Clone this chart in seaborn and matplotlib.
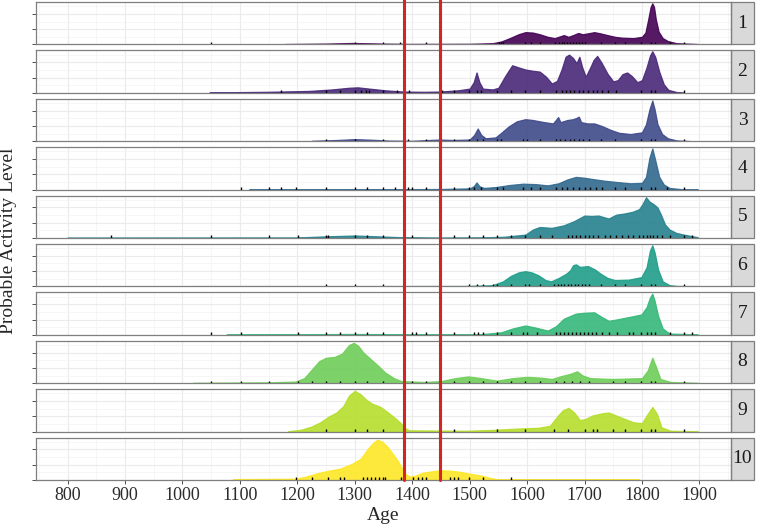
import numpy as np
import pandas as pd
import matplotlib
matplotlib.use("Agg")
import matplotlib.pyplot as plt
from matplotlib.patches import Rectangle
import seaborn as sns

# density profiles (age, relative activity), one pair per panel
age_1 = [1177, 1250, 1296, 1350, 1395, 1500, 1540, 1555, 1570, 1585, 1597, 1610, 1622, 1636, 1648, 1657, 1664, 1672, 1680, 1689, 1697, 1705, 1717, 1728, 1740, 1753, 1765, 1785, 1800, 1806, 1811, 1815, 1818, 1821, 1824, 1829, 1836, 1845, 1860, 1897]
dens_1 = [0.01, 0.02, 0.035, 0.02, 0.012, 0.015, 0.03, 0.07, 0.15, 0.24, 0.29, 0.28, 0.24, 0.18, 0.15, 0.19, 0.22, 0.18, 0.22, 0.27, 0.24, 0.26, 0.29, 0.26, 0.22, 0.18, 0.16, 0.15, 0.18, 0.28, 0.6, 0.88, 0.97, 0.88, 0.6, 0.3, 0.15, 0.08, 0.03, 0.01]

age_2 = [1047, 1150, 1220, 1260, 1290, 1305, 1325, 1353, 1385, 1420, 1448, 1480, 1500, 1507, 1512, 1517, 1523, 1540, 1550, 1562, 1574, 1585, 1597, 1610, 1622, 1633, 1643, 1652, 1660, 1667, 1673, 1680, 1686, 1691, 1696, 1702, 1710, 1716, 1722, 1730, 1740, 1750, 1758, 1766, 1774, 1782, 1792, 1800, 1808, 1814, 1818, 1823, 1830, 1838, 1846, 1860, 1873]
dens_2 = [0.01, 0.025, 0.045, 0.08, 0.12, 0.13, 0.1, 0.06, 0.03, 0.025, 0.03, 0.06, 0.1, 0.25, 0.48, 0.25, 0.1, 0.08, 0.12, 0.4, 0.65, 0.6, 0.55, 0.52, 0.5, 0.38, 0.22, 0.28, 0.55, 0.85, 0.9, 0.82, 0.7, 0.85, 0.6, 0.38, 0.6, 0.78, 0.87, 0.7, 0.45, 0.27, 0.3, 0.44, 0.48, 0.4, 0.25, 0.3, 0.6, 0.88, 0.98, 0.85, 0.5, 0.2, 0.07, 0.02, 0.0]

age_3 = [1225, 1270, 1300, 1330, 1360, 1400, 1430, 1448, 1470, 1500, 1508, 1514, 1520, 1528, 1545, 1555, 1568, 1582, 1597, 1610, 1630, 1645, 1650, 1654, 1658, 1670, 1680, 1686, 1690, 1694, 1705, 1717, 1730, 1745, 1760, 1780, 1800, 1807, 1813, 1818, 1822, 1827, 1835, 1845, 1860, 1883]
dens_3 = [0.01, 0.03, 0.05, 0.035, 0.015, 0.01, 0.03, 0.04, 0.03, 0.04, 0.15, 0.3, 0.15, 0.07, 0.09, 0.2, 0.35, 0.47, 0.52, 0.5, 0.45, 0.42, 0.5, 0.57, 0.45, 0.5, 0.52, 0.55, 0.58, 0.45, 0.42, 0.42, 0.36, 0.27, 0.2, 0.17, 0.21, 0.4, 0.75, 0.96, 0.75, 0.4, 0.17, 0.07, 0.02, 0.005]

age_4 = [1116, 1353, 1450, 1500, 1507, 1512, 1517, 1525, 1545, 1570, 1593, 1615, 1636, 1655, 1670, 1685, 1700, 1714, 1735, 1756, 1780, 1800, 1807, 1813, 1818, 1823, 1830, 1838, 1848, 1870, 1897]
dens_4 = [0.005, 0.01, 0.015, 0.03, 0.08, 0.17, 0.08, 0.04, 0.06, 0.11, 0.14, 0.13, 0.1, 0.15, 0.24, 0.3, 0.28, 0.25, 0.21, 0.18, 0.15, 0.16, 0.3, 0.75, 0.97, 0.7, 0.3, 0.12, 0.04, 0.01, 0.01]

age_5 = [800, 1197, 1250, 1300, 1340, 1381, 1448, 1520, 1560, 1597, 1610, 1622, 1643, 1664, 1682, 1700, 1712, 1724, 1742, 1755, 1770, 1784, 1795, 1801, 1807, 1813, 1820, 1827, 1833, 1840, 1848, 1860, 1873, 1897]
dens_5 = [0.01, 0.012, 0.04, 0.06, 0.04, 0.02, 0.01, 0.015, 0.03, 0.08, 0.2, 0.26, 0.24, 0.3, 0.4, 0.53, 0.52, 0.53, 0.46, 0.55, 0.58, 0.62, 0.68, 0.8, 0.96, 0.86, 0.8, 0.72, 0.55, 0.32, 0.2, 0.12, 0.08, 0.02]

age_6 = [1017, 1353, 1494, 1540, 1558, 1572, 1585, 1597, 1608, 1620, 1632, 1642, 1655, 1668, 1675, 1680, 1685, 1692, 1706, 1718, 1728, 1740, 1753, 1777, 1799, 1808, 1814, 1818, 1822, 1828, 1836, 1848, 1862, 1897]
dens_6 = [0.008, 0.008, 0.01, 0.03, 0.12, 0.25, 0.33, 0.36, 0.33, 0.26, 0.15, 0.12, 0.2, 0.3, 0.38, 0.5, 0.52, 0.46, 0.48, 0.4, 0.3, 0.2, 0.15, 0.16, 0.22, 0.45, 0.85, 0.97, 0.8, 0.4, 0.12, 0.03, 0.01, 0.008]

age_7 = [1077, 1200, 1296, 1381, 1448, 1520, 1555, 1575, 1597, 1615, 1636, 1650, 1664, 1685, 1700, 1717, 1730, 1742, 1755, 1770, 1785, 1799, 1808, 1814, 1818, 1822, 1828, 1836, 1848, 1897]
dens_7 = [0.01, 0.015, 0.02, 0.015, 0.01, 0.015, 0.06, 0.15, 0.22, 0.17, 0.1, 0.2, 0.38, 0.5, 0.52, 0.53, 0.42, 0.33, 0.36, 0.4, 0.44, 0.48, 0.65, 0.88, 0.97, 0.8, 0.45, 0.15, 0.03, 0.01]

age_8 = [1019, 1150, 1197, 1212, 1225, 1238, 1250, 1265, 1278, 1290, 1298, 1306, 1315, 1325, 1340, 1353, 1368, 1381, 1420, 1450, 1475, 1498, 1520, 1547, 1575, 1600, 1625, 1643, 1660, 1675, 1687, 1697, 1710, 1749, 1800, 1810, 1818, 1824, 1832, 1850, 1897]
dens_8 = [0.01, 0.02, 0.04, 0.12, 0.32, 0.52, 0.6, 0.62, 0.7, 0.9, 0.95, 0.88, 0.72, 0.6, 0.42, 0.25, 0.12, 0.05, 0.03, 0.05, 0.12, 0.16, 0.12, 0.06, 0.12, 0.15, 0.13, 0.1, 0.17, 0.22, 0.28, 0.18, 0.12, 0.1, 0.12, 0.3, 0.6, 0.4, 0.1, 0.03, 0.01]

age_9 = [1184, 1205, 1225, 1240, 1254, 1268, 1280, 1290, 1300, 1310, 1320, 1330, 1345, 1358, 1370, 1380, 1388, 1395, 1494, 1540, 1580, 1620, 1640, 1652, 1662, 1672, 1682, 1692, 1702, 1714, 1730, 1742, 1755, 1770, 1785, 1800, 1810, 1818, 1826, 1834, 1850, 1897]
dens_9 = [0.01, 0.04, 0.12, 0.22, 0.35, 0.45, 0.6, 0.85, 0.96, 0.88, 0.75, 0.66, 0.58, 0.45, 0.32, 0.2, 0.08, 0.03, 0.02, 0.04, 0.07, 0.09, 0.14, 0.35, 0.5, 0.56, 0.45, 0.27, 0.3, 0.38, 0.43, 0.45, 0.38, 0.3, 0.22, 0.2, 0.42, 0.58, 0.42, 0.1, 0.02, 0.01]

age_10 = [1088, 1197, 1215, 1235, 1255, 1275, 1295, 1310, 1322, 1330, 1339, 1348, 1357, 1367, 1375, 1382, 1388, 1395, 1405, 1418, 1432, 1448, 1465, 1480, 1500, 1522, 1535, 1548, 1795]
dens_10 = [0.02, 0.03, 0.08, 0.16, 0.22, 0.27, 0.38, 0.5, 0.72, 0.85, 0.95, 0.9, 0.78, 0.6, 0.45, 0.28, 0.15, 0.08, 0.1, 0.17, 0.2, 0.23, 0.22, 0.2, 0.15, 0.1, 0.05, 0.02, 0.02]

# dated events shown as rug marks
rug_1 = [1050, 1300, 1349, 1378, 1424, 1448, 1551, 1555, 1558, 1597, 1607, 1622, 1649, 1655, 1660, 1665, 1670, 1675, 1680, 1685, 1690, 1695, 1700, 1728, 1753, 1770, 1799, 1816, 1823, 1848, 1873]
rug_2 = [1172, 1250, 1275, 1300, 1310, 1320, 1325, 1349, 1374, 1395, 1452, 1473, 1498, 1512, 1519, 1547, 1572, 1597, 1622, 1650, 1660, 1668, 1675, 1682, 1690, 1698, 1706, 1714, 1722, 1730, 1740, 1755, 1799, 1816, 1823, 1873]
rug_3 = [1250, 1300, 1349, 1392, 1424, 1473, 1498, 1512, 1523, 1547, 1554, 1593, 1600, 1622, 1650, 1658, 1666, 1674, 1682, 1690, 1698, 1707, 1728, 1753, 1799, 1816, 1823, 1873]
rug_4 = [1102, 1151, 1172, 1197, 1250, 1300, 1321, 1349, 1370, 1392, 1399, 1424, 1473, 1498, 1508, 1519, 1547, 1558, 1593, 1607, 1622, 1650, 1660, 1670, 1680, 1690, 1700, 1710, 1720, 1730, 1753, 1770, 1799, 1816, 1823, 1844, 1873]
rug_5 = [875, 1050, 1151, 1201, 1250, 1254, 1300, 1321, 1349, 1399, 1473, 1498, 1523, 1547, 1572, 1597, 1622, 1643, 1671, 1678, 1685, 1692, 1700, 1707, 1714, 1724, 1735, 1745, 1755, 1765, 1775, 1785, 1795, 1802, 1808, 1814, 1820, 1827, 1835, 1848, 1873, 1887]
rug_6 = [1250, 1300, 1349, 1498, 1512, 1523, 1540, 1547, 1572, 1597, 1604, 1622, 1647, 1653, 1659, 1665, 1671, 1677, 1683, 1689, 1695, 1701, 1707, 1728, 1753, 1770, 1799, 1816, 1823, 1873]
rug_7 = [1050, 1102, 1201, 1250, 1275, 1300, 1321, 1349, 1399, 1406, 1424, 1473, 1508, 1515, 1523, 1547, 1572, 1593, 1600, 1618, 1650, 1657, 1664, 1671, 1678, 1685, 1692, 1699, 1706, 1713, 1720, 1730, 1742, 1756, 1777, 1784, 1799, 1809, 1816, 1823, 1848, 1873, 1887]
rug_8 = [1050, 1102, 1151, 1201, 1225, 1250, 1275, 1300, 1321, 1349, 1399, 1424, 1473, 1498, 1523, 1547, 1572, 1597, 1622, 1650, 1664, 1678, 1692, 1707, 1749, 1770, 1799, 1816, 1823, 1873]
rug_9 = [1250, 1300, 1321, 1349, 1473, 1547, 1597, 1646, 1671, 1700, 1714, 1721, 1749, 1770, 1799, 1816, 1823, 1873]
rug_10 = [1197, 1225, 1254, 1275, 1282, 1314, 1321, 1328, 1335, 1343, 1349, 1353, 1381, 1402, 1410, 1417, 1424, 1448, 1466, 1473, 1480, 1498, 1523, 1572]

ages = [age_1, age_2, age_3, age_4, age_5, age_6, age_7, age_8, age_9, age_10]
dens = [dens_1, dens_2, dens_3, dens_4, dens_5, dens_6, dens_7, dens_8, dens_9, dens_10]
rugs = [rug_1, rug_2, rug_3, rug_4, rug_5, rug_6, rug_7, rug_8, rug_9, rug_10]
panels = [str(i) for i in range(1, 11)]
red_lines = [1385, 1448]
x_ticks = list(range(800, 1901, 100))

df = pd.concat([pd.DataFrame({"panel": p, "age": a, "dens": d}) for p, a, d in zip(panels, ages, dens)])
rug_df = pd.concat([pd.DataFrame({"panel": p, "age": r}) for p, r in zip(panels, rugs)])

sns.set_theme(style="white")
plt.rcParams['font.family'] = ['Liberation Serif', 'DejaVu Serif']

colors = plt.cm.viridis(np.linspace(0, 1, 10))

fig, axes = plt.subplots(10, 1, figsize=(7.57, 5.28), dpi=100, sharex=True)
fig.subplots_adjust(left=36/757, right=731/757, top=1-2/528, bottom=1-480/528, hspace=0.14)

strip_w = 23 / 695
for i, ax in enumerate(axes):
    sub = df[df.panel == panels[i]]
    ax.fill_between(sub.age, sub.dens, color=colors[i], alpha=0.9, lw=0.9, zorder=2)
    sns.rugplot(x=rug_df[rug_df.panel == panels[i]].age, ax=ax, height=0.06,
                color="black", lw=0.6, expand_margins=False, zorder=3)
    ax.set_xlim(745, 1955)
    ax.set_ylim(0, 1)
    ax.set_xticks(x_ticks)
    ax.set_xticks(range(750, 1951, 100), minor=True)
    ax.set_yticks([0, 0.36, 0.72])
    ax.set_yticks([0.18, 0.54, 0.9], minor=True)
    ax.set_yticklabels([])
    ax.set_ylabel("")
    ax.set_xlabel("")
    ax.grid(which="major", color="#ebebeb", lw=0.8)
    ax.grid(which="minor", color="#f3f3f3", lw=0.5)
    ax.set_axisbelow(True)
    ax.tick_params(axis="y", which="major", left=True, length=3, width=0.6, color="#333333")
    ax.tick_params(which="minor", length=0)
    if i < 9:
        ax.tick_params(axis="x", which="major", length=0)
    else:
        ax.tick_params(axis="x", which="major", bottom=True, length=3, width=0.6,
                       color="#333333", labelsize=13, labelcolor="#2b2b2b", pad=2)
    for s in ax.spines.values():
        s.set_color("#7f7f7f")
        s.set_linewidth(0.9)
    for xr in red_lines:
        ax.axvline(xr, ymin=0 if i == 9 else -0.16, ymax=1.16, color="#d42424",
                   lw=2.2, clip_on=False, zorder=5)
    ax.add_patch(Rectangle((1, 0), strip_w, 1, transform=ax.transAxes, clip_on=False,
                           facecolor="#d9d9d9", edgecolor="#7f7f7f", lw=0.9))
    ax.text(1 + strip_w / 2, 0.5, panels[i], transform=ax.transAxes, ha="center",
            va="center", fontsize=14, color="#1a1a1a")

fig.text((36 + 731) / 2 / 757, 1 - 515/528, "Age", ha="center", va="center", fontsize=14)
fig.text(9/757, 1 - 241/528, "Probable Activity Level", rotation=90, ha="center",
         va="center", fontsize=14)

fig.savefig("out.png", dpi=100)
